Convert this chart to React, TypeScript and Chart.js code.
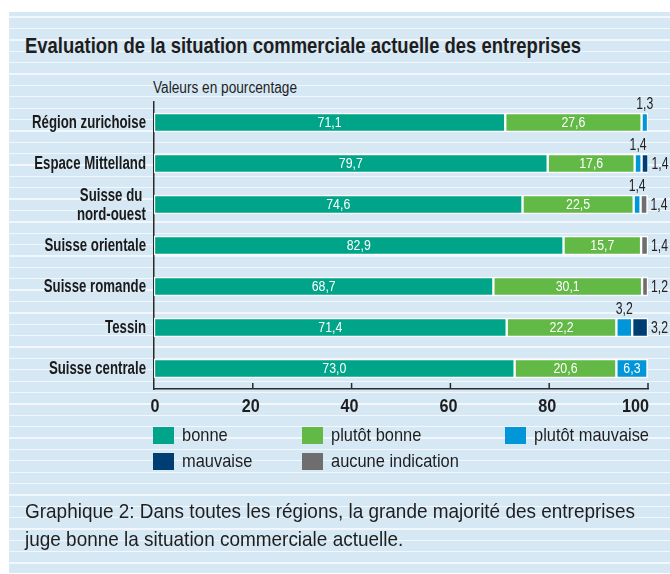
import React, { useEffect, useRef } from "react";
import { Chart, registerables } from "chart.js";

Chart.register(...registerables);

const FONT = "'Liberation Sans', Arial, sans-serif";

const categories: (string | string[])[] = [
  "Région zurichoise",
  "Espace Mittelland",
  ["Suisse du ", "nord-ouest"],
  "Suisse orientale",
  "Suisse romande",
  "Tessin",
  "Suisse centrale",
];
const seriesNames = ["bonne", "plutôt bonne", "plutôt mauvaise", "mauvaise", "aucune indication"];
const bonne = [71.1, 79.7, 74.6, 82.9, 68.7, 71.4, 73.0];
const plutotBonne = [27.6, 17.6, 22.5, 15.7, 30.1, 22.2, 20.6];
const plutotMauvaise = [1.3, 1.4, 1.4, null, null, 3.2, 6.3];
const mauvaise = [null, 1.4, null, null, null, 3.2, null];
const aucune = [null, null, 1.4, 1.4, 1.2, null, null];
const xTicks = [0, 20, 40, 60, 80, 100];
const colors = ["#00a589", "#63b946", "#0096d8", "#003d73", "#6e6e6e"];

const TITLE = "Evaluation de la situation commerciale actuelle des entreprises";
const SUBTITLE = "Valeurs en pourcentage";
const CAPTION = ["Graphique 2: Dans toutes les régions, la grande majorité des entreprises", "juge bonne la situation commerciale actuelle."];

const fmt = (v: number) => v.toFixed(1).replace(".", ",");

let measureCtx: CanvasRenderingContext2D | null = null;
function measure(text: string, font: string): number {
  if (!measureCtx) measureCtx = document.createElement("canvas").getContext("2d");
  measureCtx!.font = font;
  return measureCtx!.measureText(text).width;
}
function fitScale(text: string, font: string, target: number): number {
  const w = measure(text, font);
  return w > 0 ? target / w : 1;
}

const CAT_FONT = `bold 18px ${FONT}`;
const TICK_FONT = `bold 19px ${FONT}`;
const VAL_FONT = `14px ${FONT}`;
const OUT_FONT = `16px ${FONT}`;

function drawScaled(ctx: CanvasRenderingContext2D, text: string, x: number, y: number, font: string, align: CanvasTextAlign, sx: number, color: string) {
  ctx.save();
  ctx.font = font;
  ctx.fillStyle = color;
  ctx.textAlign = align;
  ctx.textBaseline = "middle";
  ctx.translate(x, y);
  ctx.scale(sx, 1);
  ctx.fillText(text, 0, 0);
  ctx.restore();
}

const labelPlugin = {
  id: "valueLabels",
  afterDatasetsDraw(chart: any) {
    const ctx = chart.ctx;
    const sVal = fitScale("27,6", VAL_FONT, 24);
    const sOut = fitScale("1,4", OUT_FONT, 17);
    chart.data.datasets.forEach((ds: any, di: number) => {
      const meta = chart.getDatasetMeta(di);
      meta.data.forEach((bar: any, i: number) => {
        const v = ds.data[i];
        if (v == null) return;
        const p = bar.getProps(["x", "y", "base", "height"], true);
        const txt = fmt(v);
        if (v >= 5) {
          drawScaled(ctx, txt, (p.x + p.base) / 2, p.y + 1, VAL_FONT, "center", sVal, "#ffffff");
        } else if (di === 2) {
          drawScaled(ctx, txt, (p.x + p.base) / 2, p.y - p.height / 2 - 8, OUT_FONT, "center", sOut, "#222222");
        } else {
          drawScaled(ctx, txt, p.x + 3, p.y + 1, OUT_FONT, "left", sOut, "#222222");
        }
      });
    });
  },
  afterDraw(chart: any) {
    const ctx = chart.ctx;
    const xs = chart.scales.x;
    const ys = chart.scales.y;
    const area = chart.chartArea;
    ctx.save();
    ctx.strokeStyle = "#2a2a2a";
    ctx.lineWidth = 1.5;
    xTicks.forEach((t) => {
      if (t === 0) return;
      const x = xs.getPixelForValue(t);
      ctx.beginPath();
      ctx.moveTo(x, area.bottom - 6);
      ctx.lineTo(x, area.bottom);
      ctx.stroke();
    });
    ctx.restore();
    const sTick = fitScale("100", TICK_FONT, 27);
    xTicks.forEach((t, i) => {
      const x = xs.getPixelForValue(t);
      const last = i === xTicks.length - 1;
      const first = i === 0;
      drawScaled(ctx, String(t), first ? x + 1 : last ? x + 1 : x - 2, area.bottom + 18, TICK_FONT, last ? "right" : "center", sTick, "#1e1e1e");
    });
    const sCat = fitScale("Région zurichoise", CAT_FONT, 114);
    categories.forEach((c, i) => {
      const y = ys.getPixelForValue(i);
      const lines = Array.isArray(c) ? c : [c];
      const lh = 19;
      lines.forEach((ln, k) => {
        const yy = y + (k - (lines.length - 1) / 2) * lh + 1;
        drawScaled(ctx, ln, area.left - 8, yy, CAT_FONT, "right", sCat, "#1a1a1a");
      });
    });
  },
};

function ChartCanvas() {
  const ref = useRef<HTMLCanvasElement>(null);
  useEffect(() => {
    if (!ref.current) return;
    Chart.defaults.font.family = FONT;
    const series = [bonne, plutotBonne, plutotMauvaise, mauvaise, aucune];
    const chart = new Chart(ref.current, {
      type: "bar",
      data: {
        labels: categories,
        datasets: series.map((d, i) => ({
          label: seriesNames[i],
          data: d,
          backgroundColor: colors[i],
          borderColor: "#ffffff",
          borderWidth: 1.5,
          borderSkipped: false,
          barThickness: 19,
        })),
      },
      options: {
        indexAxis: "y",
        responsive: false,
        animation: false,
        maintainAspectRatio: false,
        layout: { padding: { left: 0, right: 22, top: 102, bottom: 145 } },
        plugins: {
          legend: { display: false },
          tooltip: { enabled: false },
          title: { display: false },
        },
        scales: {
          x: {
            type: "linear",
            stacked: true,
            min: 0,
            max: 100,
            afterBuildTicks: (scale: any) => {
              scale.ticks = xTicks.map((v) => ({ value: v }));
            },
            afterFit: (scale: any) => {
              scale.height = 40;
            },
            grid: { display: false, drawTicks: false },
            border: { display: true, color: "#2a2a2a", width: 1.5 },
            ticks: { display: false },
          },
          y: {
            type: "category",
            stacked: true,
            afterFit: (scale: any) => {
              scale.width = 154;
            },
            grid: { display: false, drawTicks: false },
            border: { display: true, color: "#2a2a2a", width: 1.5 },
            ticks: { display: false },
          },
        },
      },
      plugins: [labelPlugin],
    } as any);
    return () => chart.destroy();
  }, []);
  return (
    <canvas
      ref={ref}
      width={670}
      height={574}
      style={{ position: "absolute", left: 0, top: 0, width: 670, height: 574 }}
    />
  );
}

function FitText(props: { text: string; left: number; top: number; size: number; bold?: boolean; scale: number; lineHeight?: number }) {
  return (
    <div
      style={{
        position: "absolute",
        left: props.left,
        top: props.top,
        fontFamily: FONT,
        fontSize: props.size,
        fontWeight: props.bold ? "bold" : "normal",
        lineHeight: `${props.lineHeight ?? Math.round(props.size * 1.2)}px`,
        color: "#1e1e1e",
        whiteSpace: "nowrap",
        transform: `scaleX(${props.scale})`,
        transformOrigin: "left top",
      }}
    >
      {props.text}
    </div>
  );
}

export default function App() {
  const stripe =
    "repeating-linear-gradient(180deg, #d7e8f5 0px, #d7e8f5 4.5px, #f1f7fc 4.5px, #f1f7fc 5.8px, #d7e8f5 5.8px, #d7e8f5 11.375px)";
  const titleScale = fitScale(TITLE, `bold 22px ${FONT}`, 556);
  const subScale = fitScale(SUBTITLE, `16px ${FONT}`, 144);
  const capScale = fitScale(CAPTION[0], `21px ${FONT}`, 610);
  const legScale = fitScale("plutôt mauvaise", `18.5px ${FONT}`, 115);
  const legendPos = [
    { x: 153, y: 427 },
    { x: 302, y: 427 },
    { x: 505, y: 427 },
    { x: 153, y: 453 },
    { x: 302, y: 453 },
  ];
  return (
    <div style={{ position: "absolute", left: 0, top: 0, width: 670, height: 574, background: "#ffffff", overflow: "hidden" }}>
      <div style={{ position: "absolute", left: 9, top: 12, width: 661, height: 561, backgroundColor: "#d7e8f5", backgroundImage: stripe }} />
      <FitText text={TITLE} left={25} top={33} size={22} bold scale={titleScale} lineHeight={26} />
      <FitText text={SUBTITLE} left={153} top={78} size={16} scale={subScale} lineHeight={19} />
      <ChartCanvas />
      {seriesNames.map((n, i) => (
        <div key={n} style={{ position: "absolute", left: legendPos[i].x, top: legendPos[i].y, width: 200, height: 18 }}>
          <div style={{ position: "absolute", left: 0, top: 0, width: 21, height: 17, background: colors[i] }} />
          <FitText text={n} left={29} top={-3} size={18.5} scale={legScale} lineHeight={22} />
        </div>
      ))}
      <FitText text={CAPTION[0]} left={25} top={497} size={21} scale={capScale} lineHeight={28} />
      <FitText text={CAPTION[1]} left={25} top={525} size={21} scale={capScale} lineHeight={28} />
    </div>
  );
}
